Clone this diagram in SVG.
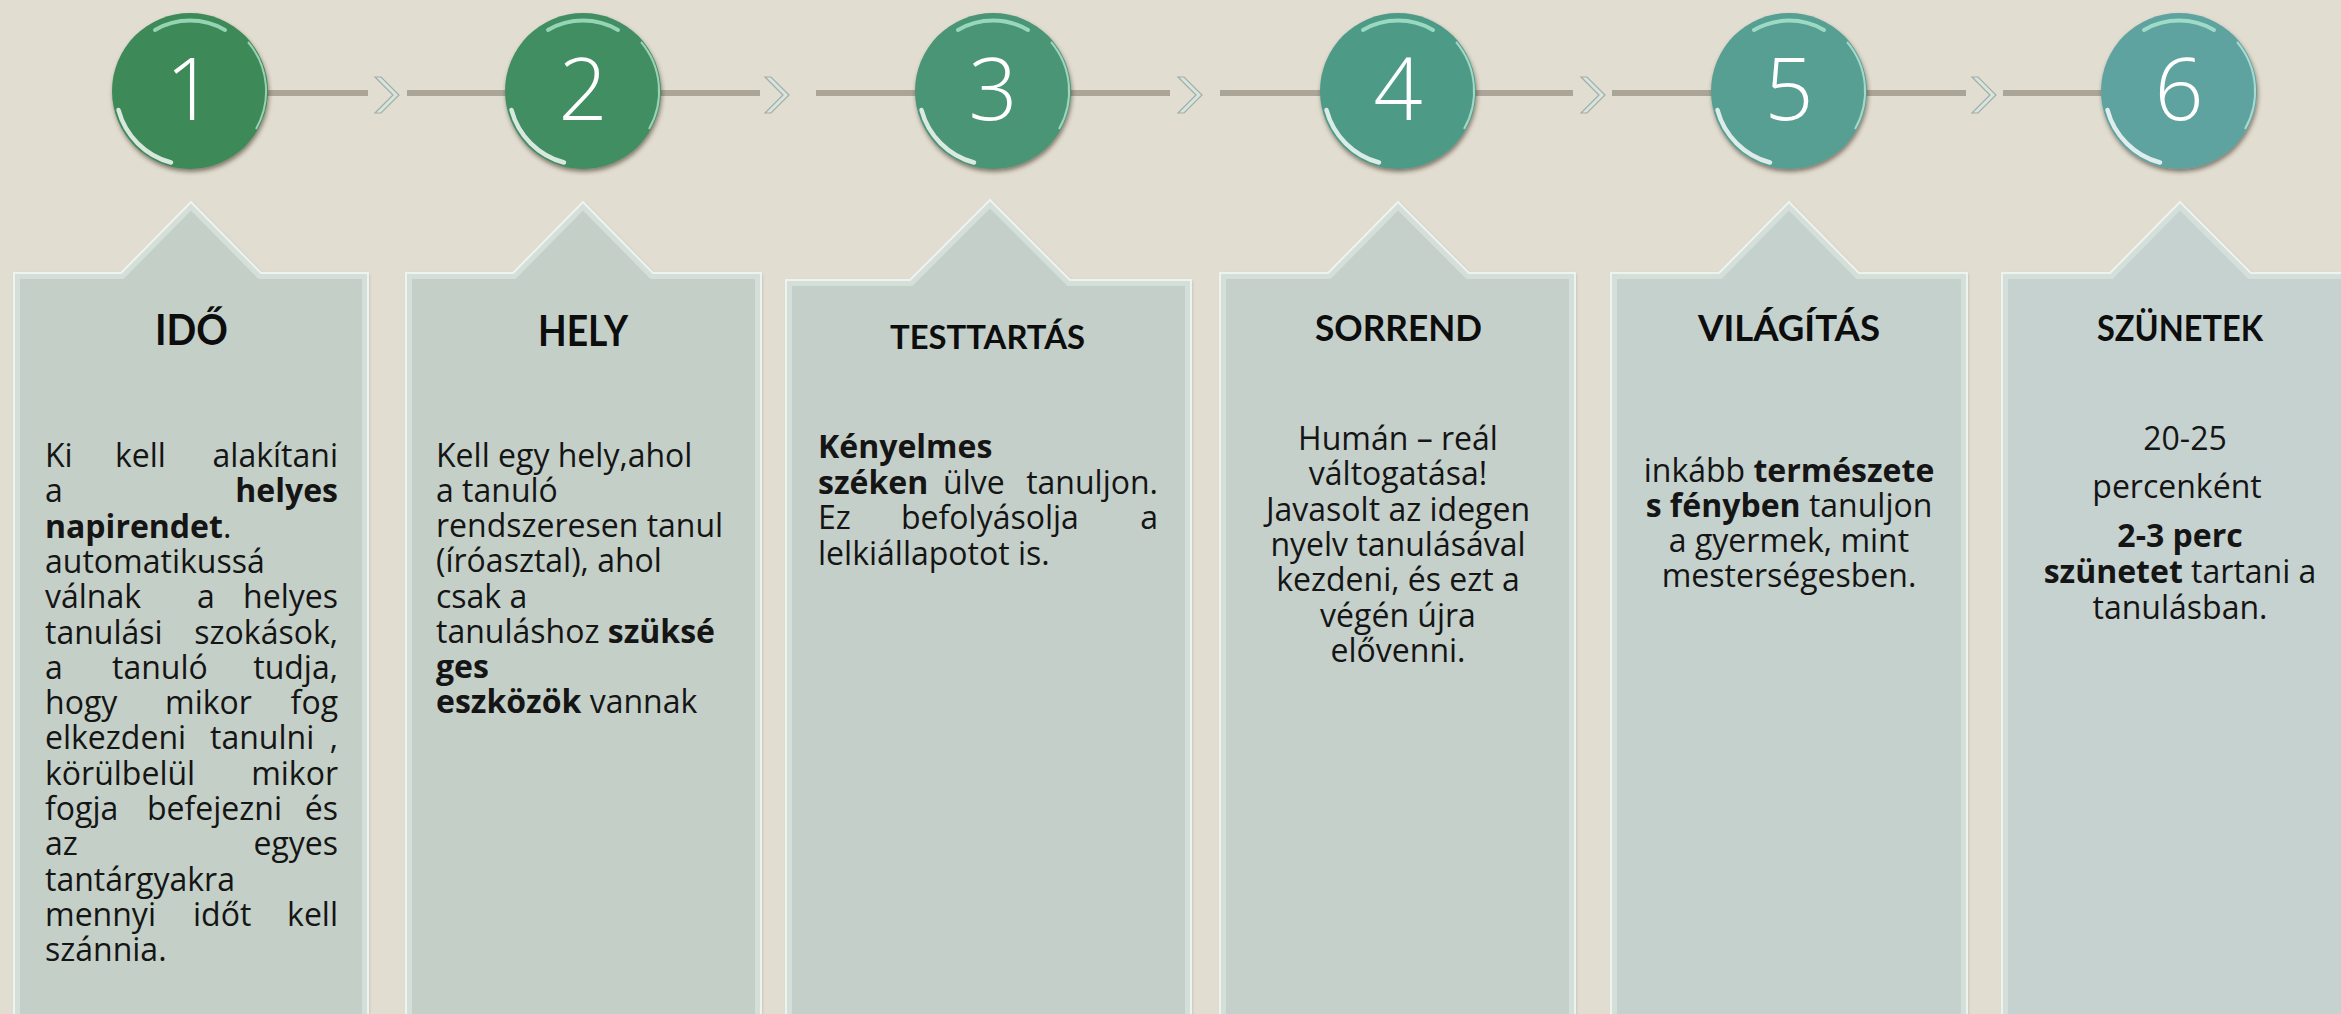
<svg xmlns="http://www.w3.org/2000/svg" width="2341" height="1014" viewBox="0 0 2341 1014">
<defs>
<style>
.bg{fill:#e2ddd1}
.ln{stroke:#aaa596;stroke-width:6;fill:none}
.chev{fill:#d6e6df;stroke:#a3aca6;stroke-width:1.2;stroke-linejoin:miter}
.num{font-family:"Open Sans","Liberation Sans",sans-serif;font-weight:300;font-size:86px;fill:#ffffff;text-anchor:middle}
.hl-top{fill:none;stroke:#b9f3d9;stroke-width:4;opacity:0.7;stroke-linecap:round}
.hl-bot{fill:none;stroke:#ffffff;stroke-width:4.5;opacity:0.8;stroke-linecap:round}
.hl-r{fill:none;stroke:#d8fff0;stroke-width:2;opacity:0.6}
.bevel{fill:none;stroke:#d5dfda;stroke-width:12}
.edge{fill:none;stroke:#edf4f0;stroke-width:2}
.title{font-family:Lato,"Liberation Sans",sans-serif;font-weight:700;fill:#0d0d0d;text-anchor:middle}
.t{font-family:"Open Sans","Liberation Sans",sans-serif;font-size:32px;fill:#151515}
.b{font-weight:700}
.e{text-anchor:end}
.s{text-anchor:start}
.m{text-anchor:middle}
</style>
<filter id="sh" x="-20%" y="-20%" width="140%" height="150%">
<feDropShadow dx="1" dy="3" stdDeviation="2" flood-color="#3b3122" flood-opacity="0.55"/>
</filter>
<filter id="psh" x="-5%" y="-5%" width="110%" height="110%">
<feDropShadow dx="1" dy="1" stdDeviation="1.5" flood-color="#8a8678" flood-opacity="0.5"/>
</filter>
<path id="p1" d="M14,273 H121 L191,202 L261,273 H368 V1030 H14 Z"/>
<path id="p2" d="M406,273 H513 L583,202 L653,273 H761 V1030 H406 Z"/>
<path id="p3" d="M786,280 H910 L990,200 L1070,280 H1191 V1030 H786 Z"/>
<path id="p4" d="M1220,273 H1328 L1398,202 L1469,273 H1575 V1030 H1220 Z"/>
<path id="p5" d="M1611,273 H1719 L1789,202 L1859,273 H1967 V1030 H1611 Z"/>
<path id="p6" d="M2002,273 H2110 L2180,202 L2251,273 H2360 V1030 H2002 Z"/>
<clipPath id="c1"><use href="#p1"/></clipPath>
<clipPath id="c2"><use href="#p2"/></clipPath>
<clipPath id="c3"><use href="#p3"/></clipPath>
<clipPath id="c4"><use href="#p4"/></clipPath>
<clipPath id="c5"><use href="#p5"/></clipPath>
<clipPath id="c6"><use href="#p6"/></clipPath>
<g id="gloss">
<path class="hl-top" d="M-35,-61 A70,70 0 0 1 35,-61"/>
<path class="hl-bot" d="M-19,71.5 A74,74 0 0 1 -71.5,19"/>
<path class="hl-r" d="M58,-49 A76,76 0 0 1 66,38"/>
</g>
</defs>
<rect class="bg" x="0" y="0" width="2341" height="1014"/>

<g id="connectors">
<line class="ln" x1="190" y1="93" x2="368" y2="93"/>
<line class="ln" x1="407" y1="93" x2="583" y2="93"/>
<line class="ln" x1="583" y1="93" x2="760" y2="93"/>
<line class="ln" x1="816" y1="93" x2="993" y2="93"/>
<line class="ln" x1="993" y1="93" x2="1170" y2="93"/>
<line class="ln" x1="1220" y1="93" x2="1398" y2="93"/>
<line class="ln" x1="1398" y1="93" x2="1573" y2="93"/>
<line class="ln" x1="1612" y1="93" x2="1789" y2="93"/>
<line class="ln" x1="1789" y1="93" x2="1966" y2="93"/>
<line class="ln" x1="2003" y1="93" x2="2179" y2="93"/>
<polygon class="chev" points="375,77 381,77 399,95 381,113 375,113 393,95"/>
<polygon class="chev" points="765,77 771,77 789,95 771,113 765,113 783,95"/>
<polygon class="chev" points="1178,77 1184,77 1202,95 1184,113 1178,113 1196,95"/>
<polygon class="chev" points="1581,77 1587,77 1605,95 1587,113 1581,113 1599,95"/>
<polygon class="chev" points="1972,77 1978,77 1996,95 1978,113 1972,113 1990,95"/>
</g>

<g id="step1">
<g transform="translate(190,91)"><circle r="78" fill="#3d8a59" filter="url(#sh)"/><use href="#gloss"/></g>
<text class="num" x="190" y="120">1</text>
</g>
<g id="step2">
<g transform="translate(583,91)"><circle r="78" fill="#418e62" filter="url(#sh)"/><use href="#gloss"/></g>
<text class="num" x="583" y="120">2</text>
</g>
<g id="step3">
<g transform="translate(993,91)"><circle r="78" fill="#489575" filter="url(#sh)"/><use href="#gloss"/></g>
<text class="num" x="993" y="120">3</text>
</g>
<g id="step4">
<g transform="translate(1398,91)"><circle r="78" fill="#4e9b86" filter="url(#sh)"/><use href="#gloss"/></g>
<text class="num" x="1398" y="120">4</text>
</g>
<g id="step5">
<g transform="translate(1789,91)"><circle r="78" fill="#579f92" filter="url(#sh)"/><use href="#gloss"/></g>
<text class="num" x="1789" y="120">5</text>
</g>
<g id="step6">
<g transform="translate(2179,91)"><circle r="78" fill="#5fa3a0" filter="url(#sh)"/><use href="#gloss"/></g>
<text class="num" x="2179" y="120">6</text>
</g>

<g id="panel1">
<use href="#p1" fill="#c4cfc7" filter="url(#psh)"/>
<use href="#p1" class="bevel" clip-path="url(#c1)"/>
<use href="#p1" class="edge"/>
<text class="title" x="191.5" y="345" font-size="42" textLength="73" lengthAdjust="spacingAndGlyphs">IDŐ</text>
<text class="t"><tspan x="45" y="467">Ki</tspan><tspan x="115" y="467">kell</tspan><tspan class="e" x="338" y="467">alakítani</tspan><tspan x="45" y="502.3">a</tspan><tspan class="e b" x="338" y="502.3">helyes</tspan><tspan class="b" x="45" y="537.6">napirendet</tspan><tspan>.</tspan><tspan x="45" y="572.9">automatikussá</tspan><tspan x="45" y="608.2">válnak</tspan><tspan x="197" y="608.2">a</tspan><tspan class="e" x="338" y="608.2">helyes</tspan><tspan x="45" y="643.5">tanulási</tspan><tspan class="e" x="338" y="643.5">szokások,</tspan><tspan x="45" y="678.8">a</tspan><tspan x="112" y="678.8">tanuló</tspan><tspan class="e" x="338" y="678.8">tudja,</tspan><tspan x="45" y="714.1">hogy</tspan><tspan x="165" y="714.1">mikor</tspan><tspan class="e" x="338" y="714.1">fog</tspan><tspan x="45" y="749.4">elkezdeni</tspan><tspan x="210" y="749.4">tanulni</tspan><tspan class="e" x="338" y="749.4">,</tspan><tspan x="45" y="784.7">körülbelül</tspan><tspan class="e" x="338" y="784.7">mikor</tspan><tspan x="45" y="820">fogja</tspan><tspan x="147" y="820">befejezni</tspan><tspan class="e" x="338" y="820">és</tspan><tspan x="45" y="855.3">az</tspan><tspan class="e" x="338" y="855.3">egyes</tspan><tspan x="45" y="890.6">tantárgyakra</tspan><tspan x="45" y="925.9">mennyi</tspan><tspan x="193" y="925.9">időt</tspan><tspan class="e" x="338" y="925.9">kell</tspan><tspan x="45" y="961.2">szánnia.</tspan></text>
</g>

<g id="panel2">
<use href="#p2" fill="#c4cfc8" filter="url(#psh)"/>
<use href="#p2" class="bevel" clip-path="url(#c2)"/>
<use href="#p2" class="edge"/>
<text class="title" x="583" y="346" font-size="42" textLength="90" lengthAdjust="spacingAndGlyphs">HELY</text>
<text class="t"><tspan x="436" y="467">Kell egy hely,ahol</tspan><tspan x="436" y="502">a tanuló</tspan><tspan x="436" y="537">rendszeresen tanul</tspan><tspan x="436" y="572">(íróasztal), ahol</tspan><tspan x="436" y="608">csak a</tspan><tspan x="436" y="643">tanuláshoz </tspan><tspan class="b">szüksé</tspan><tspan class="b" x="436" y="678">ges</tspan><tspan class="b" x="436" y="713">eszközök</tspan><tspan> vannak</tspan></text>
</g>

<g id="panel3">
<use href="#p3" fill="#c4cfc9" filter="url(#psh)"/>
<use href="#p3" class="bevel" clip-path="url(#c3)"/>
<use href="#p3" class="edge"/>
<text class="title" x="987.5" y="349" font-size="33" textLength="195" lengthAdjust="spacingAndGlyphs">TESTTARTÁS</text>
<text class="t"><tspan class="b" x="818" y="458">Kényelmes</tspan><tspan class="b" x="818" y="493.5">széken</tspan><tspan x="943" y="493.5">ülve</tspan><tspan class="e" x="1158" y="493.5">tanuljon.</tspan><tspan x="818" y="529">Ez</tspan><tspan x="901" y="529">befolyásolja</tspan><tspan class="e" x="1158" y="529">a</tspan><tspan x="818" y="564.5">lelkiállapotot is.</tspan></text>
</g>

<g id="panel4">
<use href="#p4" fill="#c5d0cb" filter="url(#psh)"/>
<use href="#p4" class="bevel" clip-path="url(#c4)"/>
<use href="#p4" class="edge"/>
<text class="title" x="1398.5" y="341" font-size="36" textLength="167" lengthAdjust="spacingAndGlyphs">SORREND</text>
<text class="t m"><tspan x="1398" y="450">Humán – reál</tspan><tspan x="1398" y="485.3">váltogatása!</tspan><tspan x="1398" y="520.6">Javasolt az idegen</tspan><tspan x="1398" y="555.9">nyelv tanulásával</tspan><tspan x="1398" y="591.2">kezdeni, és ezt a</tspan><tspan x="1398" y="626.5">végén újra</tspan><tspan x="1398" y="661.8">elővenni.</tspan></text>
</g>

<g id="panel5">
<use href="#p5" fill="#c5d1cd" filter="url(#psh)"/>
<use href="#p5" class="bevel" clip-path="url(#c5)"/>
<use href="#p5" class="edge"/>
<text class="title" x="1789" y="341" font-size="36" textLength="182" lengthAdjust="spacingAndGlyphs">VILÁGÍTÁS</text>
<text class="t m"><tspan x="1789" y="482">inkább <tspan class="b">természete</tspan></tspan><tspan x="1789" y="517"><tspan class="b">s fényben</tspan> tanuljon</tspan><tspan x="1789" y="552">a gyermek, mint</tspan><tspan x="1789" y="587">mesterségesben.</tspan></text>
</g>

<g id="panel6">
<use href="#p6" fill="#c6d2d0" filter="url(#psh)"/>
<use href="#p6" class="bevel" clip-path="url(#c6)"/>
<use href="#p6" class="edge"/>
<text class="title" x="2180" y="341" font-size="36" textLength="166" lengthAdjust="spacingAndGlyphs">SZÜNETEK</text>
<text class="t m"><tspan x="2185" y="450">20-25</tspan><tspan x="2177" y="498">percenként</tspan><tspan class="b" x="2180" y="547">2-3 perc</tspan><tspan x="2180" y="583"><tspan class="b">szünetet</tspan> tartani a</tspan><tspan x="2180" y="619">tanulásban.</tspan></text>
</g>
</svg>
